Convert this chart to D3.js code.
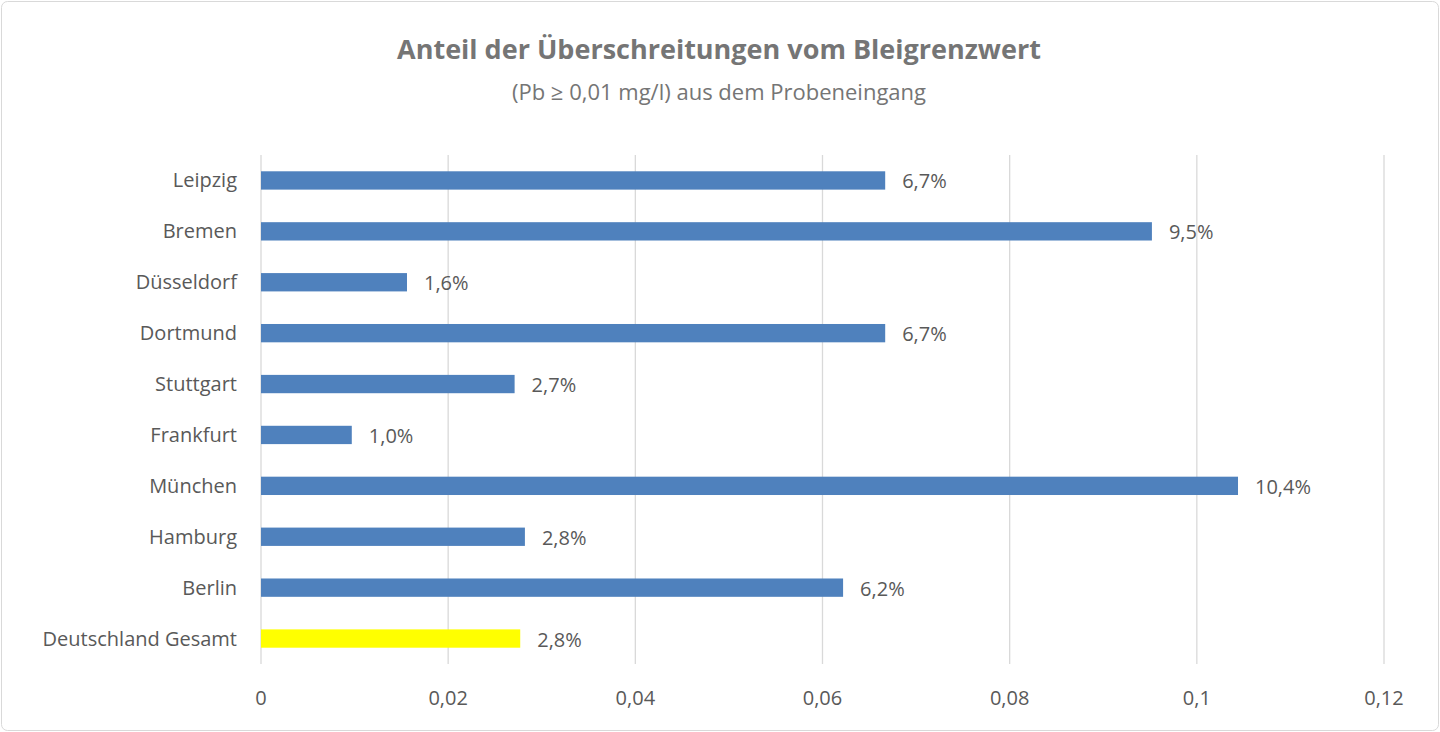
<!DOCTYPE html>
<html><head><meta charset="utf-8">
<script src="https://cdn.jsdelivr.net/npm/d3@7"></script>
<style>body{margin:0;background:#fff}svg{display:block}</style>
</head><body><svg id="c" width="1440" height="732"></svg>
<script>
const categories=["Leipzig","Bremen","Düsseldorf","Dortmund","Stuttgart","Frankfurt","München","Hamburg","Berlin","Deutschland Gesamt"];
const values=[0.0667,0.0952,0.0156,0.0667,0.0271,0.0097,0.1044,0.0282,0.0622,0.0277];
const labels=["6,7%","9,5%","1,6%","6,7%","2,7%","1,0%","10,4%","2,8%","6,2%","2,8%"];
const colors=["#4f81bd","#4f81bd","#4f81bd","#4f81bd","#4f81bd","#4f81bd","#4f81bd","#4f81bd","#4f81bd","#ffff00"];
const ticks=[0,0.02,0.04,0.06,0.08,0.1,0.12];
const tickLabels=["0","0,02","0,04","0,06","0,08","0,1","0,12"];
const svg=d3.select("#c");
const F="'Open Sans','Liberation Sans',sans-serif";
svg.append("rect").attr("x",1.5).attr("y",1.5).attr("width",1437).attr("height",729).attr("rx",6).attr("fill","#fff").attr("stroke","#d9d9d9");
const x=d3.scaleLinear().domain([0,0.12]).range([261,1384]);
const y=d3.scaleBand().domain(categories).range([155,664]).paddingInner(0.64).paddingOuter(0.32);
svg.append("g").selectAll("line").data(ticks).join("line").attr("x1",d=>x(d)).attr("x2",d=>x(d)).attr("y1",155).attr("y2",664).attr("stroke","#d9d9d9").attr("stroke-width",1.3);
svg.append("g").selectAll("rect").data(categories).join("rect").attr("x",x(0)).attr("y",d=>y(d)).attr("height",y.bandwidth()).attr("width",(d,i)=>x(values[i])-x(0)).attr("fill",(d,i)=>colors[i]);
svg.append("g").selectAll("text").data(categories).join("text").attr("x",237).attr("y",d=>y(d)+y.bandwidth()/2).attr("dy","0.35em").attr("text-anchor","end").attr("font-family",F).attr("font-size",20).attr("fill","#595959").text(d=>d);
svg.append("g").selectAll("text").data(categories).join("text").attr("x",(d,i)=>x(values[i])+17).attr("y",d=>y(d)+y.bandwidth()/2).attr("dy","0.4em").attr("font-family",F).attr("font-size",20).attr("fill","#595959").text((d,i)=>labels[i]);
svg.append("g").selectAll("text").data(ticks).join("text").attr("x",d=>x(d)).attr("y",698).attr("dy","0.35em").attr("text-anchor","middle").attr("font-family",F).attr("font-size",20).attr("fill","#595959").text((d,i)=>tickLabels[i]);
svg.append("text").attr("x",719).attr("y",59).attr("text-anchor","middle").attr("font-family",F).attr("font-weight","bold").attr("font-size",27).attr("fill","#757575").text("Anteil der Überschreitungen vom Bleigrenzwert");
svg.append("text").attr("x",719).attr("y",100).attr("text-anchor","middle").attr("font-family",F).attr("font-size",22).attr("fill","#757575").text("(Pb ≥ 0,01 mg/l) aus dem Probeneingang");
</script></body></html>
